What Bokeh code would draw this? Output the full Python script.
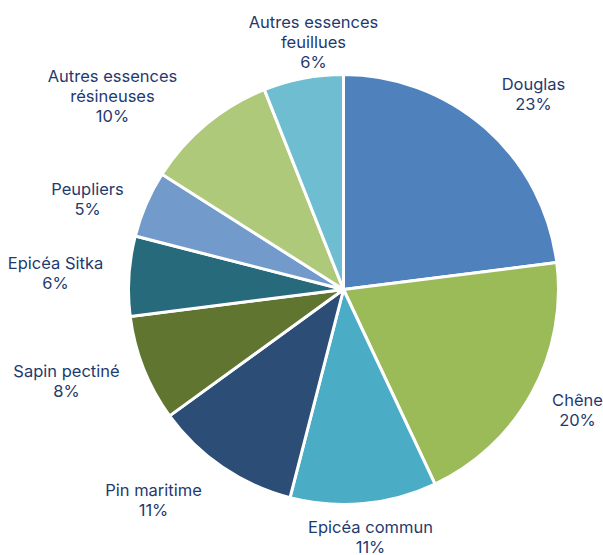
import math
from bokeh.plotting import figure
from bokeh.models import ColumnDataSource
from bokeh.core.properties import value
from bokeh.embed import file_html
from bokeh.resources import INLINE

# Data
categories = ["Douglas", "Chêne", "Epicéa commun", "Pin maritime", "Sapin pectiné",
              "Epicéa Sitka", "Peupliers", "Autres essences\nrésineuses",
              "Autres essences\nfeuillues"]
shares = [23, 20, 11, 11, 8, 6, 5, 10, 6]
colors = ["#4F81BD", "#9BBB59", "#4BACC6", "#2C4D75", "#5F7530",
          "#276A7C", "#729ACA", "#AFC97A", "#6FBDD1"]

# Layout (page pixel positions of label centres)
label_pos = [(533, 93), (577, 409), (370, 536), (153, 499), (66, 380),
             (55, 272), (87, 198), (112, 95), (313, 41)]

W, H = 603, 555
CX, CY, R = 343, H - 289, 215

p = figure(width=W, height=H, x_range=(0, W), y_range=(0, H),
           output_backend="svg", toolbar_location=None, min_border=0)
p.axis.visible = False
p.grid.visible = False
p.outline_line_color = None
p.background_fill_color = "white"

total = sum(shares)
starts, ends = [], []
cum = 0
for s in shares:
    a0 = math.pi / 2 - 2 * math.pi * cum / total
    cum += s
    a1 = math.pi / 2 - 2 * math.pi * cum / total
    starts.append(a0)
    ends.append(a1)

src = ColumnDataSource(dict(start=starts, end=ends, color=colors))
p.wedge(x=CX, y=CY, radius=R, start_angle="start", end_angle="end",
        direction="clock", fill_color="color", line_color="white",
        line_width=3, source=src)

texts = [f"{c}\n{s}%" for c, s in zip(categories, shares)]
lx = [x for x, y in label_pos]
ly = [H - y for x, y in label_pos]
p.text(x=lx, y=ly, text=texts, text_align="center", text_baseline="middle",
       text_font=value("Inter"), text_font_size="16.5px", text_color="#1F3A6E",
       text_line_height=1.0)

open("out.html", "w").write(file_html(p, INLINE))
